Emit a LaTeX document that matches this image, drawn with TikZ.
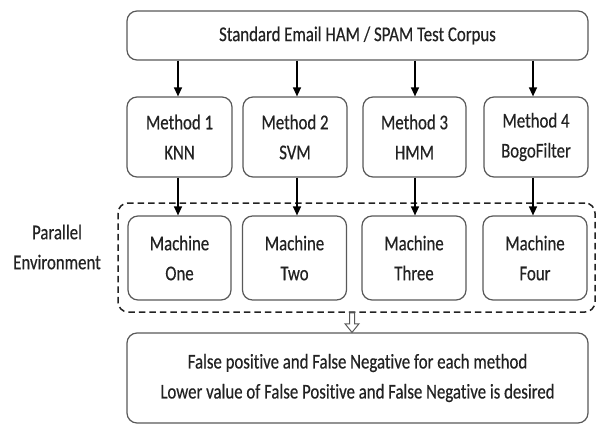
\documentclass[tikz,border=0pt]{standalone}
\usepackage{fontspec}
\newfontfamily\boxfont[FakeStretch=0.80,FakeBold=0.4,Ligatures=NoCommon]{Carlito}
\usetikzlibrary{arrows.meta,calc}
\definecolor{edge}{HTML}{595959}
\definecolor{ink}{HTML}{222222}
\tikzset{
  lbl/.style={font=\boxfont\fontsize{21}{30}\selectfont, text=ink, align=center, inner sep=0pt},
  rbox/.style={lbl, draw=edge, line width=1.2pt, rounded corners=10pt, fill=white},
  flow/.style={draw=black, line width=1.3pt, -{Triangle[length=9pt,width=8pt]}},
  envbox/.style={draw=ink, line width=1.5pt, dash pattern=on 6.5pt off 4pt, rounded corners=10pt},
}
\begin{document}
\begin{tikzpicture}[x=1pt,y=-1pt]
\useasboundingbox (0,0) rectangle (597,425);

% input corpus
\node[rbox, minimum width=461pt, minimum height=49pt] (corpus) at (357.5,35.5)
  {Standard Email HAM / SPAM Test Corpus};

% classification methods
\node[rbox, minimum width=105pt, minimum height=80pt] (m1) at (179.5,137) {Method 1\\KNN};
\node[rbox, minimum width=104pt, minimum height=80pt] (m2) at (295,137) {Method 2\\SVM};
\node[rbox, minimum width=103pt, minimum height=80pt] (m3) at (414.5,137) {Method 3\\HMM};
\node[rbox, minimum width=104pt, minimum height=80pt] (m4) at (536,137) {Method 4\\BogoFilter};

% parallel environment
\node[envbox, minimum width=477pt, minimum height=109pt] (env) at (356.5,257.5) {};
\node[lbl] (envlabel) at (57,247) {Parallel\\Environment};

% machines
\node[rbox, minimum width=103pt, minimum height=84pt] (c1) at (179.5,258) {Machine\\One};
\node[rbox, minimum width=104pt, minimum height=84pt] (c2) at (294.5,258) {Machine\\Two};
\node[rbox, minimum width=104pt, minimum height=84pt] (c3) at (414,258) {Machine\\Three};
\node[rbox, minimum width=104pt, minimum height=84pt] (c4) at (535,258) {Machine\\Four};

% result
\node[rbox, minimum width=461pt, minimum height=90pt] (res) at (357.5,378)
  {False positive and False Negative for each method\\Lower value of False Positive and False Negative is desired};

% corpus to methods
\foreach \m/\x in {m1/178, m2/297, m3/415, m4/533}{
  \draw[flow] (corpus.south -| \x,0) -- (\m.north -| \x,0);
}
% methods to machines
\foreach \m/\c/\x in {m1/c1/178, m2/c2/297, m3/c3/415, m4/c4/533}{
  \draw[flow] (\m.south -| \x,0) -- (\c.north -| \x,0);
}

% hollow arrow from the environment to the result
\coordinate (h) at (env.south -| 352,0);
\draw[draw=edge, line width=1pt, fill=white, line join=miter]
  ($(h)+(-2.5,0)$) -- ($(h)+(-2.5,11)$) -- ($(h)+(-7,11)$) -- (h |- res.north)
  -- ($(h)+(7,11)$) -- ($(h)+(2.5,11)$) -- ($(h)+(2.5,0)$) -- cycle;
\end{tikzpicture}
\end{document}
